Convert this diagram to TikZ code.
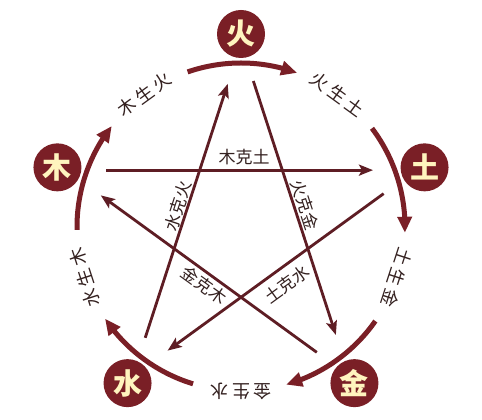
\documentclass[tikz,border=0pt]{standalone}
\usepackage{fontspec}
\newfontfamily\cjk{Noto Sans CJK SC}
\usetikzlibrary{arrows.meta,bending,calc}
\definecolor{maroon}{HTML}{7A1F26}
\definecolor{starc}{HTML}{5E1D24}
\definecolor{cream}{HTML}{FFF4BE}
\definecolor{txt}{HTML}{33201F}
\newcommand{\gap}{\hspace{3.5pt}}
\begin{document}
\begin{tikzpicture}[x=1pt,y=1pt,
 elem/.style={circle, fill=maroon, minimum size=48pt, inner sep=0pt, text=cream, font=\cjk\bfseries\fontsize{29}{29}\selectfont},
 slab/.style={text=txt, font=\cjk\fontsize{18}{18}\selectfont, inner sep=0pt},
 klab/.style={text=txt, font=\cjk\fontsize{17}{17}\selectfont, inner sep=0pt},
 sline/.style={draw=maroon, line width=5pt, -{Triangle[length=16pt,width=14pt]}},
 kline/.style={draw=starc, line width=2.8pt, -{Stealth[length=14pt,width=11pt,inset=3pt]}, shorten <=40pt, shorten >=43pt}]
\useasboundingbox (0,0) rectangle (482,420);
\fill[white] (0,0) rectangle (482,420);
\coordinate (C) at (241,193);
% pentagram vertices
\coordinate (vhuo) at ($(C)+(90:184)$);
\coordinate (vtu) at ($(C)+(18:184)$);
\coordinate (vjin) at ($(C)+(-54:184)$);
\coordinate (vshui) at ($(C)+(-126:184)$);
\coordinate (vmu) at ($(C)+(162:184)$);
% generating arcs
\foreach \e in {90,18,-54,-126,162}{
  \pgfmathsetmacro{\sa}{\e+19}
  \pgfmathsetmacro{\ea}{\e-20}
  \draw[sline] ($(C)+(\sa:164)$) arc[start angle=\sa, end angle=\ea, radius=164];
}
% generating labels
\node[slab, rotate=36] (lmh) at ($(C)+(126:164)$) {木\gap 生\gap 火};
\node[slab, rotate=-36] (lht) at ($(C)+(54:164)$) {火\gap 生\gap 土};
\node[slab, rotate=-108] (ltj) at ($(C)+(-18:164)$) {土\gap 生\gap 金};
\node[slab, rotate=-180] (ljs) at ($(C)+(-90:164)$) {金\gap 生\gap 水};
\node[slab, rotate=108] (lsm) at ($(C)+(198:164)$) {水\gap 生\gap 木};
% controlling lines
\draw[kline] (vmu) -- (vtu);
\draw[kline] (vhuo) -- (vjin);
\draw[kline] (vjin) -- (vmu);
\draw[kline] (vshui) -- (vhuo);
\draw[kline] (vtu) -- (vshui);
% controlling labels
\node[klab] (kmt) at (244,263) {木克土};
\node[klab, rotate=72] (ksh) at (178,214) {水克火};
\node[klab, rotate=-72] (khj) at (305,215) {火克金};
\node[klab, rotate=-36] (kjm) at (204,135) {金克木};
\node[klab, rotate=36] (kts) at (287,136) {土克水};
% elements
\node[elem] (huo) at ($(C)+(90:193)$) {火};
\node[elem] (tu) at ($(C)+(18:193)$) {土};
\node[elem] (jin) at ($(C)+(-54:193)$) {金};
\node[elem] (shui) at ($(C)+(-126:193)$) {水};
\node[elem] (mu) at ($(C)+(162:193)$) {木};
\end{tikzpicture}
\end{document}
